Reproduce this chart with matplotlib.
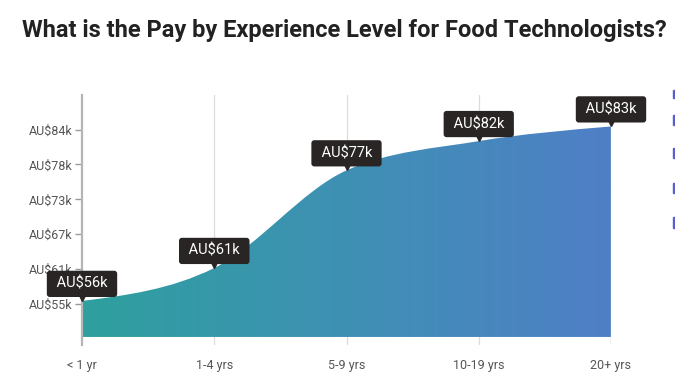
import numpy as np
import matplotlib
matplotlib.use("Agg")
import matplotlib.pyplot as plt
from matplotlib.path import Path
from matplotlib.patches import PathPatch, Rectangle
from matplotlib.colors import LinearSegmentedColormap
import matplotlib.transforms as mtransforms

plt.rcParams['font.family'] = ['Roboto', 'DejaVu Sans']

# data
levels = ['< 1 yr', '1-4 yrs', '5-9 yrs', '10-19 yrs', '20+ yrs']
pay_k = [55.9, 61.3, 77.3, 82.1, 84.5]
pay_labels = ['AU$56k', 'AU$61k', 'AU$77k', 'AU$82k', 'AU$83k']
ytick_vals = [55.4, 61.12, 66.84, 72.56, 78.28, 84.0]
ytick_labels = ['AU$55k', 'AU$61k', 'AU$67k', 'AU$73k', 'AU$78k', 'AU$84k']

W, H = 675, 391
fig = plt.figure(figsize=(W / 100, H / 100), dpi=100)
ax = fig.add_axes([82 / W, 1 - 345 / H, (611 - 82) / W, (345 - 95) / H])

x = np.arange(len(levels), dtype=float)
y = np.array(pay_k)
base = 50.0


def monotone_tangents(x, y):
    # same slopes as d3.curveMonotoneX
    h = np.diff(x)
    s = np.diff(y) / h
    t = np.zeros_like(y)
    for i in range(1, len(y) - 1):
        p = (s[i - 1] * h[i] + s[i] * h[i - 1]) / (h[i - 1] + h[i])
        t[i] = (np.sign(s[i - 1]) + np.sign(s[i])) * min(abs(s[i - 1]), abs(s[i]), 0.5 * abs(p))
    t[0] = (3 * s[0] - t[1]) / 2
    t[-1] = (3 * s[-1] - t[-2]) / 2
    return t


t = monotone_tangents(x, y)
verts = [(x[0], base), (x[0], y[0])]
codes = [Path.MOVETO, Path.LINETO]
for i in range(len(x) - 1):
    dx = (x[i + 1] - x[i]) / 3
    verts += [(x[i] + dx, y[i] + dx * t[i]),
              (x[i + 1] - dx, y[i + 1] - dx * t[i + 1]),
              (x[i + 1], y[i + 1])]
    codes += [Path.CURVE4] * 3
verts += [(x[-1], base), (x[0], base)]
codes += [Path.LINETO, Path.CLOSEPOLY]
area = Path(verts, codes)

ax.set_xlim(0, 4)
ax.set_ylim(48.68, 89.66)

cmap = LinearSegmentedColormap.from_list('pay', ['#2ea09e', '#3f90b4', '#4f7fc6'])
grad = np.linspace(0, 1, 256).reshape(1, -1)
img = ax.imshow(grad, cmap=cmap, aspect='auto', extent=[0, 4, 48.68, 89.66],
                origin='lower', zorder=2)
patch = PathPatch(area, facecolor='none', edgecolor='none', transform=ax.transData)
ax.add_patch(patch)
img.set_clip_path(patch)

# vertical guides
for xi in x[1:]:
    ax.axvline(xi, color='#dcdcdc', lw=0.9, zorder=1)
ax.axvline(4, color='#c8c8c8', lw=1.0, zorder=3)

for side in ['top', 'right', 'bottom']:
    ax.spines[side].set_visible(False)
ax.spines['left'].set_color('#b5b5b5')
ax.spines['left'].set_linewidth(1.6)
ax.spines['left'].set_zorder(4)

ax.set_yticks(ytick_vals)
ax.set_yticklabels(ytick_labels)
ax.set_xticks(x)
ax.set_xticklabels(levels)
ax.tick_params(axis='y', length=5, width=1, color='#999999', labelsize=9,
               labelcolor='#555555', pad=2)
ax.tick_params(axis='x', length=0, labelsize=9, labelcolor='#555555', pad=10)

# value tooltips
tri = mtransforms.offset_copy(ax.transData, fig=fig, x=0, y=4, units='dots')
for xi, yi, lab in zip(x, y, pay_labels):
    ax.plot(xi, yi, marker='v', ms=6, color='#2a2525', transform=tri,
            clip_on=False, zorder=6)
    ax.annotate(' ' + lab + ' ', (xi, yi), xytext=(0, 12.3), textcoords='offset points',
                ha='center', va='center', color='white', fontsize=10.5,
                bbox=dict(boxstyle='round,pad=0.42,rounding_size=0.2',
                          fc='#2a2525', ec='none'),
                annotation_clip=False, zorder=7)

fig.text(22 / W, 1 - 31 / H, 'What is the Pay by Experience Level for Food Technologists?',
         fontsize=17, fontweight='bold', color='#222222', va='center', ha='left')

# cut-off legend markers at the right edge
for top, bot in [(90, 98), (115, 125), (148, 158), (183, 193), (217, 228)]:
    fig.patches.append(Rectangle((673 / W, 1 - bot / H), 2.5 / W, (bot - top) / H,
                                 transform=fig.transFigure, color='#5a5fd0'))

fig.savefig('out.png', dpi=100)
